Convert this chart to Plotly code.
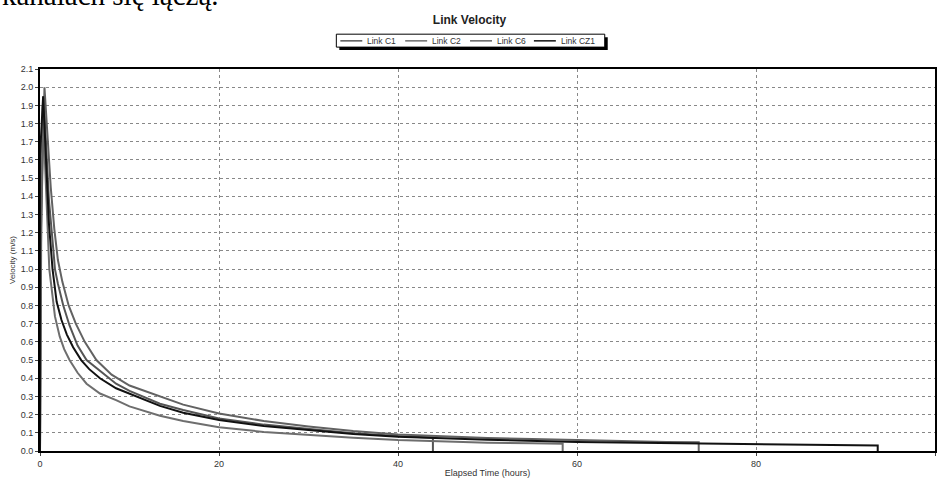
import plotly.graph_objects as go

# ---- data ----
c1_t = [0, 0.1, 0.4, 0.7, 1.0, 1.5, 1.67, 2.0, 2.6, 3.3, 4.2, 5.2, 6.7, 8.5, 10, 11.5, 13.4, 16, 20, 25, 30, 35, 40, 43.9, 43.9]
c1_v = [0, 1.2, 1.95, 1.65, 1.38, 1.1, 1.0, 0.92, 0.8, 0.69, 0.58, 0.5, 0.44, 0.37, 0.33, 0.3, 0.26, 0.225, 0.179, 0.145, 0.12, 0.097, 0.082, 0.073, 0]

c2_t = [0, 0.1, 0.3, 0.6, 1.04, 1.67, 2.2, 2.7, 3.3, 4.2, 5.2, 6.7, 8.5, 10, 13.4, 16, 20, 25, 30, 35, 40, 45, 50, 55, 58.4, 58.4]
c2_v = [0, 1.1, 1.9, 1.5, 1.0, 0.74, 0.63, 0.56, 0.5, 0.43, 0.37, 0.316, 0.28, 0.245, 0.194, 0.165, 0.13, 0.105, 0.088, 0.073, 0.06, 0.052, 0.046, 0.042, 0.04, 0]

c6_t = [0, 0.15, 0.5, 0.8, 1.2, 1.6, 2.0, 2.5, 3.2, 4.0, 5.0, 6.3, 8.0, 10, 13.4, 16, 20, 25, 30, 35, 40, 45, 50, 55, 60, 65, 70, 73.6, 73.6]
c6_v = [0, 1.3, 2.0, 1.75, 1.45, 1.22, 1.05, 0.93, 0.8, 0.7, 0.6, 0.5, 0.42, 0.36, 0.3, 0.255, 0.206, 0.165, 0.135, 0.11, 0.091, 0.08, 0.072, 0.066, 0.06, 0.055, 0.05, 0.048, 0]

cz1_t = [0, 0, 0.35, 0.7, 1.0, 1.4, 1.86, 2.4, 3.0, 3.7, 4.6, 5.5, 6.7, 8.5, 10.8, 13.4, 16, 20, 25, 30, 35, 40, 50, 60, 70, 80, 90, 93.6, 93.6]
cz1_v = [0, 1.62, 1.95, 1.55, 1.25, 1.0, 0.82, 0.72, 0.64, 0.57, 0.5, 0.45, 0.4, 0.345, 0.3, 0.248, 0.21, 0.17, 0.137, 0.113, 0.093, 0.079, 0.062, 0.05, 0.043, 0.037, 0.032, 0.03, 0]

series_names = ["Link C1", "Link C2", "Link C6", "Link CZ1"]
series_t = [c1_t, c2_t, c6_t, cz1_t]
series_v = [c1_v, c2_v, c6_v, cz1_v]
series_colors = ["#555555", "#6e6e6e", "#626262", "#111111"]

y_ticks = [round(i * 0.1, 1) for i in range(22)]
x_ticks = [0, 20, 40, 60, 80, 100]

W, H = 939, 479
L, R, T, B = 40, 2, 69, 26
PW, PH = W - L - R, H - T - B


def px_x(px):
    return (px - L) / PW


def px_y(py):
    return (H - B - py) / PH


fig = go.Figure()
for name, t, v, c in zip(series_names, series_t, series_v, series_colors):
    fig.add_trace(go.Scatter(x=t, y=v, mode="lines", name=name,
                             line=dict(color=c, width=2), showlegend=False))

fig.update_layout(
    width=W, height=H,
    margin=dict(l=L, r=R, t=T, b=B),
    paper_bgcolor="white", plot_bgcolor="white",
    font=dict(family="Liberation Sans, Arial, sans-serif", size=9, color="#333333"),
    title=dict(text="<b>Link Velocity</b>", x=0.5, xref="container", xanchor="center",
               y=1 - 20 / H, yref="container", yanchor="middle",
               font=dict(size=12, color="#222222")),
    showlegend=False,
)

fig.update_xaxes(range=[0, 100], tickvals=x_ticks, ticktext=[str(v) for v in x_ticks],
                 showgrid=True, gridcolor="#888888", griddash="dot", gridwidth=1,
                 showline=True, linecolor="#000000", linewidth=2, mirror=True,
                 ticks="outside", ticklen=3, tickcolor="#444444",
                 zeroline=False,
                 title=dict(text="Elapsed Time (hours)", font=dict(size=9), standoff=2))
fig.update_yaxes(range=[0, 2.1], tickvals=y_ticks, ticktext=[f"{v:.1f}" for v in y_ticks],
                 showgrid=True, gridcolor="#888888", griddash="dot", gridwidth=1,
                 showline=True, linecolor="#000000", linewidth=2, mirror=True,
                 ticks="outside", ticklen=3, tickcolor="#444444",
                 zeroline=False,
                 title=dict(text="Velocity (m/s)", font=dict(size=8), standoff=4))

# ---- legend box drawn by hand (compact, with shadow) ----
box_l, box_r, box_t, box_b = 337, 606, 34, 47
shapes = [
    dict(type="rect", xref="paper", yref="paper",
         x0=px_x(box_l + 3), x1=px_x(box_r + 3), y0=px_y(box_b + 3), y1=px_y(box_t + 3),
         line=dict(width=0), fillcolor="#000000", layer="above"),
    dict(type="rect", xref="paper", yref="paper",
         x0=px_x(box_l), x1=px_x(box_r), y0=px_y(box_b), y1=px_y(box_t),
         line=dict(width=1, color="#000000"), fillcolor="white", layer="above"),
]
item_line_x = [341, 406, 471, 535]
item_len = 22
ly = 40.7
for name, c, lx in zip(series_names, series_colors, item_line_x):
    shapes.append(dict(type="line", xref="paper", yref="paper",
                       x0=px_x(lx), x1=px_x(lx + item_len), y0=px_y(ly), y1=px_y(ly),
                       line=dict(color=c, width=1.5), layer="above"))
    fig.add_annotation(text=name, xref="paper", yref="paper",
                       x=px_x(lx + item_len + 3), xanchor="left", y=px_y(ly), yanchor="middle",
                       showarrow=False, font=dict(size=8.5, color="#333333"))
fig.update_layout(shapes=shapes)

fig.add_annotation(text="kanałach się łączą.", xref="paper", yref="paper",
                   x=px_x(0), xanchor="left",
                   y=px_y(-5), yanchor="middle",
                   showarrow=False,
                   font=dict(family="Liberation Serif, Times New Roman, serif", size=29, color="#000000"))

fig.write_html("out.html")
